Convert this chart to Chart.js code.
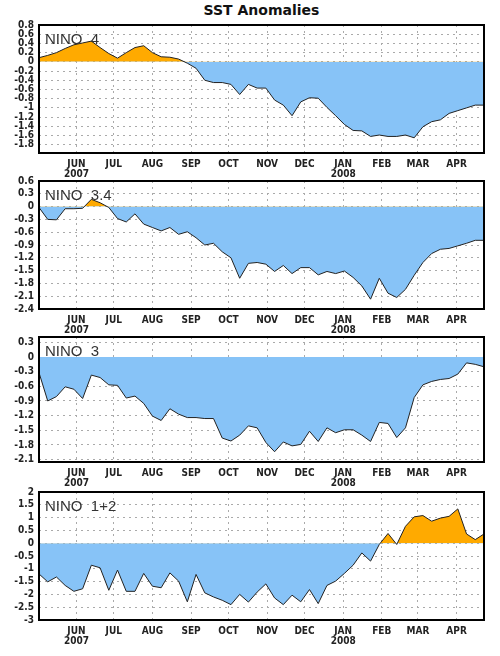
<!DOCTYPE html>
<html>
<head>
<meta charset="utf-8">
<script src="https://cdn.jsdelivr.net/npm/chart.js@4.4.1/dist/chart.umd.min.js"></script>
<style>
  html, body { margin: 0; padding: 0; background: #fff; }
  #wrap { position: relative; width: 500px; height: 656px; overflow: hidden; }
  #title { position: absolute; left: 0; top: 2px; width: 523px; text-align: center;
           font: bold 14px "DejaVu Sans", sans-serif; line-height: 16px; color: #111; }
  canvas { position: absolute; left: 0; }
</style>
</head>
<body>
<div id="wrap">
  <div id="title">SST Anomalies</div>
  <canvas id="c0" width="500" height="175"></canvas>
  <canvas id="c1" width="500" height="175"></canvas>
  <canvas id="c2" width="500" height="175"></canvas>
  <canvas id="c3" width="500" height="175"></canvas>
</div>
<script>
// weekly anomalies, first week starts 2 May 2007
const nino4 = [0.09, 0.14, 0.2, 0.29, 0.37, 0.41, 0.45, 0.31, 0.18, 0.08, 0.2, 0.31, 0.35, 0.2, 0.11, 0.1, 0.06, -0.03, -0.14, -0.4, -0.45, -0.45, -0.49, -0.71, -0.49, -0.57, -0.57, -0.83, -0.94, -1.17, -0.87, -0.78, -0.79, -0.99, -1.17, -1.36, -1.49, -1.5, -1.62, -1.59, -1.62, -1.62, -1.59, -1.65, -1.41, -1.3, -1.26, -1.12, -1.06, -1.0, -0.94, -0.94];
const nino34 = [-0.02, -0.3, -0.31, -0.05, -0.05, -0.04, 0.17, 0.09, -0.02, -0.28, -0.36, -0.17, -0.41, -0.49, -0.57, -0.49, -0.65, -0.59, -0.73, -0.9, -0.86, -1.06, -1.2, -1.68, -1.33, -1.31, -1.35, -1.52, -1.38, -1.57, -1.43, -1.43, -1.6, -1.52, -1.57, -1.51, -1.66, -1.86, -2.17, -1.68, -2.03, -2.13, -1.94, -1.61, -1.31, -1.1, -1.0, -0.98, -0.92, -0.86, -0.79, -0.79];
const nino3 = [-0.32, -0.9, -0.81, -0.61, -0.66, -0.85, -0.37, -0.42, -0.57, -0.58, -0.84, -0.8, -0.95, -1.21, -1.3, -1.06, -1.17, -1.24, -1.24, -1.26, -1.26, -1.66, -1.72, -1.6, -1.41, -1.45, -1.75, -1.94, -1.74, -1.82, -1.79, -1.52, -1.73, -1.45, -1.55, -1.49, -1.49, -1.6, -1.73, -1.34, -1.36, -1.65, -1.45, -0.83, -0.57, -0.5, -0.46, -0.44, -0.35, -0.12, -0.15, -0.2];
const nino12 = [-1.2, -1.51, -1.32, -1.65, -1.88, -1.78, -0.86, -0.96, -1.84, -1.05, -1.88, -1.88, -1.18, -1.68, -1.74, -1.16, -1.48, -2.29, -1.22, -1.94, -2.1, -2.23, -2.4, -2.0, -2.3, -1.91, -1.59, -2.14, -2.4, -2.03, -2.29, -1.81, -2.36, -1.65, -1.48, -1.18, -0.86, -0.38, -0.7, -0.05, 0.38, -0.05, 0.66, 1.03, 1.08, 0.86, 0.98, 1.05, 1.34, 0.36, 0.14, 0.36];

const panelNames = ["NINO  4", "NINO  3.4", "NINO  3", "NINO  1+2"];

// month starts, in days after 2 May 2007
const monthDays = [30, 60, 91, 122, 152, 183, 213, 244, 275, 304, 335];
const monthLabels = [["JUN", "2007"], "JUL", "AUG", "SEP", "OCT", "NOV", "DEC", ["JAN", "2008"], "FEB", "MAR", "APR"];
const lastDay = 357;

const yTicks4 = [0.8, 0.6, 0.4, 0.2, 0, -0.2, -0.4, -0.6, -0.8, -1, -1.2, -1.4, -1.6, -1.8];
const yTicks34 = [0.6, 0.3, 0, -0.3, -0.6, -0.9, -1.2, -1.5, -1.8, -2.1, -2.4];
const yTicks3 = [0.3, 0, -0.3, -0.6, -0.9, -1.2, -1.5, -1.8, -2.1];
const yTicks12 = [2, 1.5, 1, 0.5, 0, -0.5, -1, -1.5, -2, -2.5, -3];

const panels = [
  { id: 'c0', data: nino4,  ticks: yTicks4,  min: -1.98, max: 0.8,  top: 25,  h: 128 },
  { id: 'c1', data: nino34, ticks: yTicks34, min: -2.4,  max: 0.6,  top: 181, h: 128 },
  { id: 'c2', data: nino3,  ticks: yTicks3,  min: -2.15, max: 0.41, top: 337, h: 125 },
  { id: 'c3', data: nino12, ticks: yTicks12, min: -3,    max: 2,    top: 492, h: 128 }
];

const tickFont = { family: '"DejaVu Sans Condensed", "DejaVu Sans", sans-serif', size: 10, weight: 'bold', lineHeight: 0.95 };

const frame = {
  id: 'frame',
  afterDraw(chart, args, opts) {
    const a = chart.chartArea, ctx = chart.ctx;
    ctx.save();
    ctx.strokeStyle = '#000';
    ctx.lineWidth = 2;
    ctx.strokeRect(a.left, a.top, a.right - a.left, a.bottom - a.top);
    ctx.fillStyle = '#333';
    ctx.font = '15px "Liberation Sans", sans-serif';
    ctx.textBaseline = 'alphabetic';
    ctx.fillText(opts.name, a.left + 6, a.top + 19);
    ctx.restore();
  }
};

panels.forEach((p, k) => {
  const cv = document.getElementById(p.id);
  cv.style.top = (p.top - 10) + 'px';
  new Chart(cv, {
    type: 'line',
    data: {
      datasets: [{
        data: p.data.map((v, i) => ({ x: i * 7, y: v })),
        borderColor: '#222',
        borderWidth: 1,
        pointRadius: 0,
        tension: 0,
        fill: { target: { value: 0 }, above: '#FFAA00', below: '#87C3F7' }
      }]
    },
    options: {
      responsive: false,
      animation: false,
      devicePixelRatio: 1,
      layout: { padding: { top: 10, right: 16, left: 0, bottom: 0 } },
      plugins: { legend: { display: false }, tooltip: { enabled: false }, frame: { name: panelNames[k] } },
      scales: {
        x: {
          type: 'linear', min: 0, max: lastDay,
          afterBuildTicks: s => { s.ticks = monthDays.map(v => ({ value: v })); },
          afterFit: s => { s.height = 175 - 10 - p.h; },
          grid: { color: '#aaa', drawTicks: false },
          border: { display: false, dash: [2, 4] },
          ticks: { font: tickFont, color: '#222', padding: 7, maxRotation: 0, autoSkip: false,
                   callback: (v, i) => monthLabels[i] }
        },
        y: {
          min: p.min, max: p.max,
          afterBuildTicks: s => { s.ticks = p.ticks.map(v => ({ value: v })); },
          afterFit: s => { s.width = 39; },
          grid: { color: '#aaa', drawTicks: false },
          border: { display: false, dash: [2, 4] },
          ticks: { font: tickFont, color: '#222', padding: 5, autoSkip: false,
                   callback: v => String(Math.round(v * 10) / 10) }
        }
      }
    },
    plugins: [frame]
  });
});
</script>
</body>
</html>
